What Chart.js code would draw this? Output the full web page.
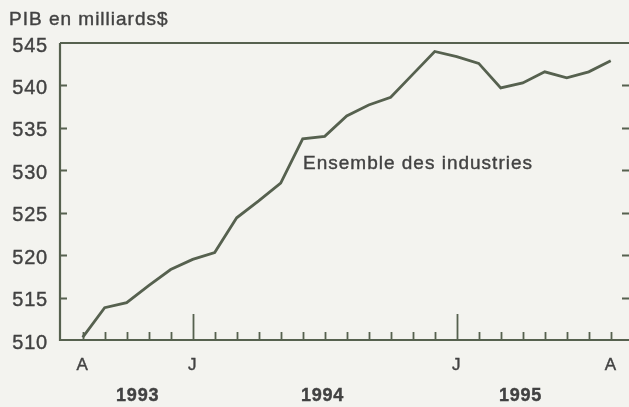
<!DOCTYPE html>
<html>
<head>
<meta charset="utf-8">
<script src="https://cdn.jsdelivr.net/npm/chart.js@4/dist/chart.umd.min.js"></script>
<style>
  html, body { margin: 0; padding: 0; background: #f3f3ef; }
  #wrap { width: 629px; height: 407px; }
</style>
</head>
<body>
<div id="wrap"><canvas id="c" width="629" height="407"></canvas></div>
<script>
// Monthly GDP, all industries, Aug 1993 -> Aug 1995 (index 0 = Aug 1993)
const months = ['A','S','O','N','D','J','F','M','A','M','J','J','A','S','O','N','D',
                'J','F','M','A','M','J','J','A'];
const gdp = [510.3, 513.8, 514.4, 516.4, 518.3, 519.5, 520.3, 524.4, 526.4, 528.5,
             533.7, 534.0, 536.4, 537.7, 538.6, 541.3, 544.0, 543.4, 542.6, 539.7,
             540.3, 541.6, 540.9, 541.6, 542.9];
const yTicks = [510, 515, 520, 525, 530, 535, 540, 545];
const monthLabels = [[0, 'A'], [5, 'J'], [17, 'J'], [24, 'A']];
const yearTicks = [5, 17];           // tall ticks at each January
const yearLabels = [[2.5, '1993'], [10.9, '1994'], [19.9, '1995']];
const seriesLabel = 'Ensemble des industries';
const yTitle = 'PIB en milliards$';

const INK = '#56614f';
const TXT = '#424242';
const FONT = '"Liberation Sans", Arial, sans-serif';

// Axes, inward ticks and labels, drawn from the chart's own scales.
const frame = {
  id: 'frame',
  afterDatasetsDraw(chart) {
    const ctx = chart.ctx, a = chart.chartArea;
    const x = chart.scales.x, y = chart.scales.y;
    ctx.save();
    ctx.strokeStyle = INK;
    ctx.lineWidth = 2.2;
    ctx.beginPath();
    ctx.moveTo(a.left, a.top); ctx.lineTo(a.right, a.top);
    ctx.moveTo(a.left, a.top); ctx.lineTo(a.left, a.bottom); ctx.lineTo(a.right, a.bottom);
    ctx.stroke();

    ctx.lineWidth = 1.8;
    ctx.beginPath();
    yTicks.slice(1, -1).forEach(v => {
      const py = Math.round(y.getPixelForValue(v)) + 0.5;
      ctx.moveTo(a.left, py); ctx.lineTo(a.left + 7, py);
      ctx.moveTo(a.right, py); ctx.lineTo(a.right - 7, py);
    });
    months.forEach((m, i) => {
      const px = Math.round(x.getPixelForValue(i)) + 0.5;
      const len = yearTicks.includes(i) ? 26 : 8;
      ctx.moveTo(px, a.bottom); ctx.lineTo(px, a.bottom - len);
    });
    ctx.stroke();

    ctx.fillStyle = TXT;
    ctx.strokeStyle = TXT;
    ctx.lineWidth = 0.4;
    const put = (t, px, py) => { ctx.fillText(t, px, py); ctx.strokeText(t, px, py); };
    if ('letterSpacing' in ctx) ctx.letterSpacing = '0.8px';
    ctx.font = '20px ' + FONT;
    ctx.textAlign = 'right';
    ctx.textBaseline = 'middle';
    yTicks.forEach(v => put(String(v), 48, y.getPixelForValue(v) + 3));

    ctx.textAlign = 'center';
    ctx.font = '17px ' + FONT;
    monthLabels.forEach(([i, t]) => put(t, x.getPixelForValue(i), 365));
    ctx.font = 'bold 18px ' + FONT;
    yearLabels.forEach(([i, t]) => put(t, x.getPixelForValue(i), 396));

    ctx.textAlign = 'left';
    if ('letterSpacing' in ctx) ctx.letterSpacing = '1px';
    ctx.font = '19px ' + FONT;
    put(yTitle, 9, 20);
    put(seriesLabel, 303, 164);
    ctx.restore();
  }
};

new Chart(document.getElementById('c'), {
  type: 'line',
  data: {
    datasets: [{
      data: gdp.map((v, i) => ({ x: i, y: v })),
      borderColor: INK,
      borderWidth: 2.8,
      pointRadius: 0,
      tension: 0,
      fill: false
    }]
  },
  options: {
    responsive: false,
    animation: false,
    layout: { padding: { left: 60, right: 0, top: 43, bottom: 67 } },
    plugins: { legend: { display: false }, tooltip: { enabled: false } },
    scales: {
      x: { type: 'linear', display: false, min: -1.03, max: 24.83 },
      y: { type: 'linear', display: false, min: 510, max: 545 }
    }
  },
  plugins: [frame]
});
</script>
</body>
</html>
